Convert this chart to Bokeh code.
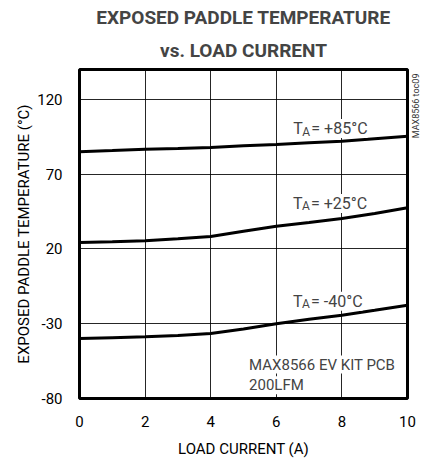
import numpy as np
from bokeh.plotting import figure
from bokeh.models import (Label, Title, Range1d, FixedTicker, CustomJSTickFormatter,
                          LinearAxis)
from bokeh.embed import file_html
from bokeh.resources import INLINE

# ---- data ----
load_current = [0, 1, 2, 3, 4, 5, 6, 7, 8, 9, 10]
temp_85 = [85.0, 85.8, 86.7, 87.2, 87.8, 89.0, 89.8, 91.0, 92.0, 93.7, 95.4]
temp_25 = [24.3, 24.8, 25.5, 26.8, 28.3, 31.9, 35.2, 37.7, 40.4, 43.7, 47.5]
temp_m40 = [-39.9, -39.3, -38.7, -37.9, -36.5, -33.5, -30.0, -27.0, -24.3, -21.0, -17.6]
x_ticks = [0, 2, 4, 6, 8, 10]
y_ticks = [-80, -30, 20, 70, 120]
series_labels = ["+85°C", "+25°C", "-40°C"]
label_x = [6.52, 6.51, 6.51]
label_y = [100.5, 50.4, -14.9]
side_note = "MAX8566 toc09"
side_note_y = 94.0

FONT = "Roboto"

p = figure(frame_width=328, frame_height=329, output_backend="svg", toolbar_location=None,
           x_range=Range1d(0, 10), y_range=Range1d(-80, 140),
           min_border_left=79, min_border_right=10, min_border_top=69,
           min_border_bottom=52)

p.title.text = "EXPOSED PADDLE TEMPERATURE"
p.title.align = "center"
p.title.text_font = FONT
p.title.text_font_size = "19px"
p.title.text_font_style = "bold"
p.title.standoff = 0
t2 = Title(text="vs. LOAD CURRENT", align="center", text_font=FONT,
           text_font_size="19px", text_font_style="bold", standoff=16)
p.add_layout(t2, "above")

p.outline_line_color = "black"
p.outline_line_width = 3
p.background_fill_color = "white"
p.border_fill_color = "white"

fmt = CustomJSTickFormatter(code="return tick.toString();")
for ax in (p.xaxis[0], p.yaxis[0]):
    ax.axis_line_color = None
    ax.major_tick_line_color = None
    ax.minor_tick_line_color = None
    ax.major_label_text_font = FONT
    ax.major_label_text_font_size = "15px"
    ax.major_label_text_color = "black"
    ax.axis_label_text_font = FONT
    ax.axis_label_text_font_size = "15px"
    ax.axis_label_text_font_style = "normal"
    ax.axis_label_text_color = "black"
    ax.major_label_standoff = 11
    ax.formatter = fmt

p.xaxis.ticker = FixedTicker(ticks=x_ticks)
p.yaxis.ticker = FixedTicker(ticks=y_ticks)
p.xaxis.axis_label = "LOAD CURRENT (A)"
p.yaxis.axis_label = "EXPOSED PADDLE TEMPERATURE (°C)"
p.xaxis.axis_label_standoff = 10
p.yaxis.axis_label_standoff = 1

p.xgrid.ticker = FixedTicker(ticks=x_ticks)
p.ygrid.ticker = FixedTicker(ticks=y_ticks)
p.grid.grid_line_color = "black"
p.grid.grid_line_width = 1
p.grid.grid_line_alpha = 0.85

# side note as a tick-less right axis label
side_ax = LinearAxis(ticker=FixedTicker(ticks=[side_note_y]),
                     major_label_overrides={side_note_y: side_note},
                     major_label_orientation=np.pi / 2,
                     axis_line_color=None, major_tick_line_color=None,
                     minor_tick_line_color=None, major_label_standoff=3,
                     major_label_text_font=FONT, major_label_text_font_size="9px",
                     major_label_text_color="#333333")
p.add_layout(side_ax, "right")

# labels (white background interrupts gridlines)
for txt, lx, ly in zip(series_labels, label_x, label_y):
    p.add_layout(Label(x=lx, y=ly, text="T", text_font=FONT, text_font_size="16px",
                       text_baseline="alphabetic", text_align="left",
                       background_fill_color="white"))
    p.add_layout(Label(x=lx, y=ly, x_offset=9, y_offset=-3, text="A", text_font=FONT,
                       text_font_size="12px", text_baseline="alphabetic", text_align="left",
                       background_fill_color="white"))
    p.add_layout(Label(x=lx, y=ly, x_offset=18, text="= " + txt, text_font=FONT,
                       text_font_size="16px", text_baseline="alphabetic", text_align="left",
                       background_fill_color="white"))

p.add_layout(Label(x=5.17, y=-57.3, text="MAX8566 EV KIT PCB", text_font=FONT,
                   text_font_size="15px", text_baseline="alphabetic",
                   background_fill_color="white"))
p.add_layout(Label(x=5.17, y=-71.1, text="200LFM", text_font=FONT,
                   text_font_size="15px", text_baseline="alphabetic",
                   background_fill_color="white"))

# curves
for ys in (temp_85, temp_25, temp_m40):
    p.line(load_current, ys, line_color="black", line_width=3)

open("out.html", "w").write(file_html(p, INLINE))
